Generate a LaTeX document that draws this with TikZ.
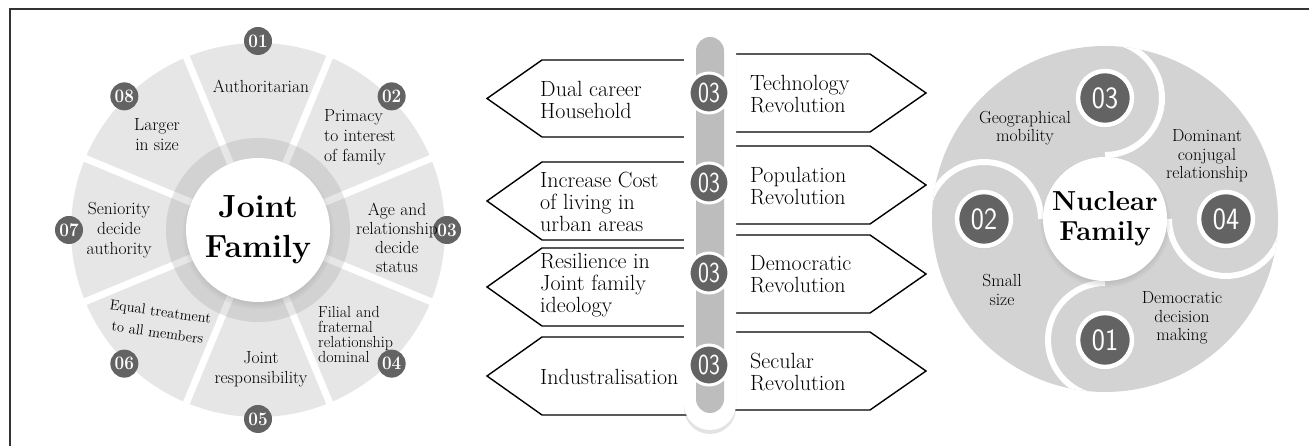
\documentclass[tikz,border=0pt]{standalone}
\usepackage{tikz}
\usetikzlibrary{calc,
                positioning,
                shadows}

\definecolor{wheelgray}{HTML}{E6E6E6}
\definecolor{ringgray}{HTML}{D2D2D2}
\definecolor{badgegray}{HTML}{636363}
\definecolor{railgray}{HTML}{BDBDBD}
\definecolor{nucgray}{HTML}{D3D3D3}

\begin{document}
\begin{tikzpicture}[x=1pt,y=1pt,
  txt/.style={font=\fontsize{17.5}{20}\selectfont, align=center, inner sep=0pt},
  ntxt/.style={font=\fontsize{17.5}{18.5}\selectfont, align=center, inner sep=0pt},
  arrtxt/.style={font=\fontsize{22}{22}\selectfont, align=left, anchor=west, inner sep=0pt},
  arrowbox/.style={draw=black, line width=1.4pt, fill=white, line join=miter},
  jbadge/.style={circle, fill=badgegray, text=white, inner sep=0pt, minimum size=28pt,
                 font=\bfseries\fontsize{19}{19}\selectfont},
  mbadge/.style={circle, fill=badgegray, draw=white, line width=3pt, text=white, inner sep=0pt,
                 minimum size=40pt, font=\sffamily\fontsize{29}{29}\selectfont},
  nbadge/.style={circle, fill=badgegray, draw=white, line width=4.5pt, text=white, inner sep=0pt,
                 minimum size=54pt, font=\sffamily\fontsize{31}{31}\selectfont,
                 circular drop shadow={shadow xshift=0pt, shadow yshift=-1pt, shadow scale=1.08, opacity=0.3}},
  hub/.style={circle, fill=white, inner sep=0pt, align=center,
              circular drop shadow={shadow xshift=0pt, shadow yshift=-3pt, shadow scale=1.06, opacity=0.35}}
]
\useasboundingbox (0,0) rectangle (1309,446);
\draw[line width=1.5pt, black!80] (10,0) -- (10,437) -- (1309,437);

% joint family wheel
\coordinate (jc) at (258,216);
\fill[wheelgray] (jc) circle (187);
\fill[ringgray] (jc) circle (92);
\foreach \a in {22.5,67.5,...,337.5}{
  \draw[white, line width=7pt] ($(jc)+(\a:92)$) -- ($(jc)+(\a:192)$);
  \draw[white, opacity=0.45, line width=7pt] ($(jc)+(\a:72)$) -- ($(jc)+(\a:92)$);
}
\node[hub, minimum size=144pt, font=\bfseries\fontsize{32}{40}\selectfont] (joint) at (jc) {Joint\\Family};

\foreach \n/\a in {1/90,2/45,3/0,4/-45,5/-90,6/-135,7/180,8/135}
  \node[jbadge] (jb\n) at ($(jc)+(\a:189)$) {\scalebox{0.9}[1]{0\n}};

\node[txt] (auth) at (261,360) {Authoritarian};
\node[txt, align=left, anchor=west] (prim) at (324,309) {Primacy\\to interest\\of family};
\node[txt, font=\fontsize{17.5}{19}\selectfont] (age) at (397,208) {Age and\\relationship\\decide\\status};
\node[txt, align=left, anchor=west, font=\fontsize{16}{15}\selectfont] (fil) at (318,111) {Filial and\\fraternal\\relationship\\dominal};
\node[txt] (resp) at (261,77) {Joint\\responsibility};
\node[txt, rotate=-8, font=\fontsize{14.5}{21}\selectfont] (equal) at (159,124) {Equal treatment\\to all members};
\node[txt] (sen) at (119,216) {Seniority\\decide\\authority};
\node[txt] (large) at (157,311) {Larger\\in size};

% arrows
\foreach \t/\b in {386/309,284/206,198/120,109/31}
  \draw[arrowbox] (700,\t) -- (542,\t) -- (487,{(\t+\b)/2}) -- (542,\b) -- (700,\b) -- cycle;
\foreach \t/\b in {392/314,300/222,211/133,114/36}
  \draw[arrowbox] (720,\t) -- (870,\t) -- (926,{(\t+\b)/2}) -- (870,\b) -- (720,\b) -- cycle;

\node[fill=white, rounded corners=26pt, minimum width=52pt, minimum height=405pt, inner sep=0pt,
      drop shadow={shadow xshift=0pt, shadow yshift=-4pt, opacity=0.22}] (pill) at (710,218.5) {};
\node[fill=railgray, rounded corners=14pt, minimum width=28pt, minimum height=376pt, inner sep=0pt] (rail) at (710,221) {};
\foreach \y [count=\i] in {353,263,173,81}
  \node[mbadge] (mb\i) at (709,\y) {\scalebox{0.8}[1]{03}};

\node[arrtxt] (dual) at (540,346.5) {Dual career\\Household};
\node[arrtxt] (cost) at (540,244) {Increase Cost\\of living in\\urban areas};
\node[arrtxt] (resil) at (540,161) {Resilience in\\Joint family\\ideology};
\node[arrtxt] (indus) at (540,69) {Industralisation};
\node[arrtxt] (tech) at (750,351.5) {Technology\\Revolution};
\node[arrtxt] (pop) at (750,260) {Population\\Revolution};
\node[arrtxt] (demo) at (750,172) {Democratic\\Revolution};
\node[arrtxt] (secu) at (750,74) {Secular\\Revolution};

% nuclear family
\coordinate (nc) at (1105,227);
\fill[nucgray] (nc) circle (173);
\begin{scope}
  \clip (nc) circle (173);
  \foreach \a in {90,0,-90,180}
    \draw[white, line width=6pt] ($(nc)+(\a:178)$) arc[start angle=\a, delta angle=-180, radius=57];
\end{scope}
\node[hub, minimum size=124pt, font=\bfseries\fontsize{27.5}{30}\selectfont] (nuclear) at (nc) {Nuclear\\Family};

\foreach \n/\a in {3/90,4/0,1/-90,2/180}
  \node[nbadge] (nb\n) at ($(nc)+(\a:121)$) {\scalebox{0.9}[1]{0\n}};

\node[ntxt] (geo) at (1025,318) {Geographical\\mobility};
\node[ntxt] (dom) at (1207,290) {Dominant\\conjugal\\relationship};
\node[ntxt] (small) at (1002,156) {Small\\size};
\node[ntxt] (dec) at (1182,128) {Democratic\\decision\\making};
\end{tikzpicture}
\end{document}
